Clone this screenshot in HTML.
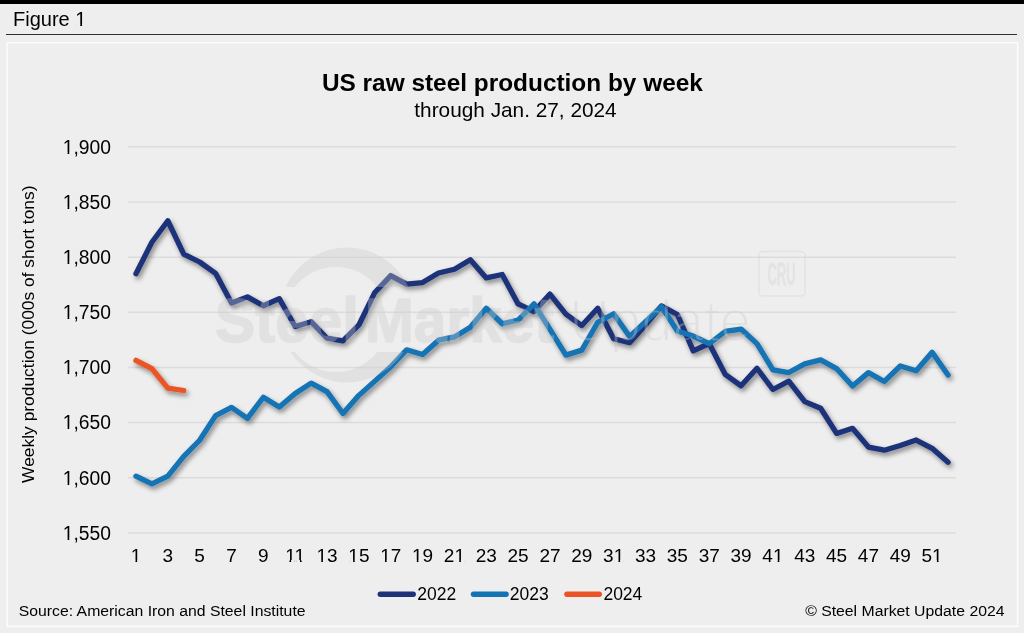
<!DOCTYPE html>
<html><head><meta charset="utf-8"><style>
html,body{margin:0;padding:0;width:1024px;height:633px;overflow:hidden;background:#eeeeee;}
svg{display:block;font-family:"Liberation Sans",sans-serif;will-change:transform;}
</style></head><body>
<svg width="1024" height="633" viewBox="0 0 1024 633">
<defs>
<filter id="sh" x="-10%" y="-10%" width="120%" height="130%">
<feGaussianBlur in="SourceAlpha" stdDeviation="2.6"/>
<feOffset dx="2" dy="3" result="b"/>
<feFlood flood-color="#000" flood-opacity="0.45"/>
<feComposite in2="b" operator="in"/>
<feMerge><feMergeNode/><feMergeNode in="SourceGraphic"/></feMerge>
</filter>
<mask id="upd" maskUnits="userSpaceOnUse" x="0" y="0" width="1024" height="633">
<rect x="0" y="0" width="1024" height="633" fill="#000"/>
<text x="569" y="341" font-size="60" textLength="182" lengthAdjust="spacingAndGlyphs" fill="#fff" stroke="#000" stroke-width="2.2">Update</text>
</mask>
<mask id="ring" maskUnits="userSpaceOnUse" x="0" y="0" width="1024" height="633">
<rect x="0" y="0" width="1024" height="633" fill="#000"/>
<circle cx="347" cy="315" r="67.5" fill="#fff"/>
<circle cx="336" cy="319.5" r="52.5" fill="#000"/>
<rect x="250" y="287" width="200" height="65" fill="#000"/>
</mask>
</defs>
<rect x="0" y="0" width="1024" height="633" fill="#eeeeee"/>
<rect x="0" y="0" width="1024" height="4" fill="#000"/>
<g fill="#000">
<text transform="translate(13.00 26.00) scale(1 1.000)" font-size="20.00">Figure 1</text>
<text transform="translate(512.40 91.20) scale(1 1.000)" font-size="24.40" font-weight="bold" text-anchor="middle">US raw steel production by week</text>
<text transform="translate(515.50 116.60) scale(1 1.000)" font-size="20.80" text-anchor="middle">through Jan. 27, 2024</text>
</g>
<line x1="6" y1="34.5" x2="1017" y2="34.5" stroke="#303030" stroke-width="1.15"/>
<rect x="7.1" y="42.6" width="1010.5" height="583.8" fill="none" stroke="#fcfcfc" stroke-width="1.5"/>
<g stroke="#dcdcdc" stroke-width="1.5"><line x1="128.0" y1="146.85" x2="956.0" y2="146.85"/><line x1="128.0" y1="202.00" x2="956.0" y2="202.00"/><line x1="128.0" y1="257.15" x2="956.0" y2="257.15"/><line x1="128.0" y1="312.30" x2="956.0" y2="312.30"/><line x1="128.0" y1="367.45" x2="956.0" y2="367.45"/><line x1="128.0" y1="422.60" x2="956.0" y2="422.60"/><line x1="128.0" y1="477.75" x2="956.0" y2="477.75"/><line x1="128.0" y1="532.90" x2="956.0" y2="532.90"/></g>
<g fill="#000"><text transform="translate(111.00 153.65) scale(1 1.000)" font-size="19.30" text-anchor="end">1,900</text><text transform="translate(111.00 208.80) scale(1 1.000)" font-size="19.30" text-anchor="end">1,850</text><text transform="translate(111.00 263.95) scale(1 1.000)" font-size="19.30" text-anchor="end">1,800</text><text transform="translate(111.00 319.10) scale(1 1.000)" font-size="19.30" text-anchor="end">1,750</text><text transform="translate(111.00 374.25) scale(1 1.000)" font-size="19.30" text-anchor="end">1,700</text><text transform="translate(111.00 429.40) scale(1 1.000)" font-size="19.30" text-anchor="end">1,650</text><text transform="translate(111.00 484.55) scale(1 1.000)" font-size="19.30" text-anchor="end">1,600</text><text transform="translate(111.00 539.70) scale(1 1.000)" font-size="19.30" text-anchor="end">1,550</text></g>
<g fill="#000"><text transform="translate(135.96 562.00) scale(1 1.000)" font-size="19.00" text-anchor="middle">1</text><text transform="translate(167.81 562.00) scale(1 1.000)" font-size="19.00" text-anchor="middle">3</text><text transform="translate(199.65 562.00) scale(1 1.000)" font-size="19.00" text-anchor="middle">5</text><text transform="translate(231.50 562.00) scale(1 1.000)" font-size="19.00" text-anchor="middle">7</text><text transform="translate(263.35 562.00) scale(1 1.000)" font-size="19.00" text-anchor="middle">9</text><text transform="translate(295.19 562.00) scale(1 1.000)" font-size="19.00" text-anchor="middle">11</text><text transform="translate(327.04 562.00) scale(1 1.000)" font-size="19.00" text-anchor="middle">13</text><text transform="translate(358.88 562.00) scale(1 1.000)" font-size="19.00" text-anchor="middle">15</text><text transform="translate(390.73 562.00) scale(1 1.000)" font-size="19.00" text-anchor="middle">17</text><text transform="translate(422.58 562.00) scale(1 1.000)" font-size="19.00" text-anchor="middle">19</text><text transform="translate(454.42 562.00) scale(1 1.000)" font-size="19.00" text-anchor="middle">21</text><text transform="translate(486.27 562.00) scale(1 1.000)" font-size="19.00" text-anchor="middle">23</text><text transform="translate(518.12 562.00) scale(1 1.000)" font-size="19.00" text-anchor="middle">25</text><text transform="translate(549.96 562.00) scale(1 1.000)" font-size="19.00" text-anchor="middle">27</text><text transform="translate(581.81 562.00) scale(1 1.000)" font-size="19.00" text-anchor="middle">29</text><text transform="translate(613.65 562.00) scale(1 1.000)" font-size="19.00" text-anchor="middle">31</text><text transform="translate(645.50 562.00) scale(1 1.000)" font-size="19.00" text-anchor="middle">33</text><text transform="translate(677.35 562.00) scale(1 1.000)" font-size="19.00" text-anchor="middle">35</text><text transform="translate(709.19 562.00) scale(1 1.000)" font-size="19.00" text-anchor="middle">37</text><text transform="translate(741.04 562.00) scale(1 1.000)" font-size="19.00" text-anchor="middle">39</text><text transform="translate(772.88 562.00) scale(1 1.000)" font-size="19.00" text-anchor="middle">41</text><text transform="translate(804.73 562.00) scale(1 1.000)" font-size="19.00" text-anchor="middle">43</text><text transform="translate(836.58 562.00) scale(1 1.000)" font-size="19.00" text-anchor="middle">45</text><text transform="translate(868.42 562.00) scale(1 1.000)" font-size="19.00" text-anchor="middle">47</text><text transform="translate(900.27 562.00) scale(1 1.000)" font-size="19.00" text-anchor="middle">49</text><text transform="translate(932.12 562.00) scale(1 1.000)" font-size="19.00" text-anchor="middle">51</text></g>
<g fill="#eeeeee"><rect x="63.65" y="152" width="3.91" height="2"/><rect x="69.27" y="152" width="3.81" height="2"/><rect x="63.65" y="207" width="3.91" height="2"/><rect x="69.27" y="207" width="3.81" height="2"/><rect x="63.65" y="262" width="3.91" height="2"/><rect x="69.27" y="262" width="3.81" height="2"/><rect x="63.65" y="317" width="3.91" height="2"/><rect x="69.27" y="317" width="3.81" height="2"/><rect x="63.65" y="372" width="3.91" height="2"/><rect x="69.27" y="372" width="3.81" height="2"/><rect x="63.65" y="427" width="3.91" height="2"/><rect x="69.27" y="427" width="3.81" height="2"/><rect x="63.65" y="483" width="3.91" height="2"/><rect x="69.27" y="483" width="3.81" height="2"/><rect x="63.65" y="538" width="3.91" height="2"/><rect x="69.27" y="538" width="3.81" height="2"/><rect x="131.61" y="560" width="3.85" height="2"/><rect x="137.14" y="560" width="3.75" height="2"/><rect x="285.56" y="560" width="3.85" height="2"/><rect x="291.09" y="560" width="3.75" height="2"/><rect x="296.12" y="560" width="3.85" height="2"/><rect x="301.65" y="560" width="3.75" height="2"/><rect x="317.40" y="560" width="3.85" height="2"/><rect x="322.93" y="560" width="3.75" height="2"/><rect x="349.25" y="560" width="3.85" height="2"/><rect x="354.78" y="560" width="3.75" height="2"/><rect x="381.09" y="560" width="3.85" height="2"/><rect x="386.62" y="560" width="3.75" height="2"/><rect x="412.94" y="560" width="3.85" height="2"/><rect x="418.47" y="560" width="3.75" height="2"/><rect x="455.35" y="560" width="3.85" height="2"/><rect x="460.88" y="560" width="3.75" height="2"/><rect x="614.58" y="560" width="3.85" height="2"/><rect x="620.11" y="560" width="3.75" height="2"/><rect x="773.81" y="560" width="3.85" height="2"/><rect x="779.34" y="560" width="3.75" height="2"/><rect x="933.04" y="560" width="3.85" height="2"/><rect x="938.57" y="560" width="3.75" height="2"/><rect x="76.22" y="24" width="4.05" height="2"/><rect x="82.04" y="24" width="3.95" height="2"/></g>
<text transform="translate(34.3 334.2) rotate(-90) scale(1 1.0)" font-size="17.4" text-anchor="middle" fill="#000">Weekly production (000s of short tons)</text>
<g fill="none" stroke-width="5.3" stroke-linejoin="round" stroke-linecap="round" filter="url(#sh)">
<path d="M135.96 273.69 L151.88 242.26 L167.81 220.75 L183.73 254.06 L199.65 262.00 L215.58 273.36 L231.50 303.03 L247.42 296.86 L263.35 305.79 L279.27 298.62 L295.19 326.53 L311.12 321.68 L327.04 338.22 L342.96 340.98 L358.88 324.98 L374.81 292.45 L390.73 275.57 L406.65 284.06 L422.58 282.52 L438.50 273.03 L454.42 269.28 L470.35 259.80 L486.27 277.89 L502.19 274.47 L518.12 303.92 L534.04 311.53 L549.96 294.10 L565.88 314.06 L581.81 325.54 L597.73 308.22 L613.65 338.77 L629.58 342.63 L645.50 324.98 L661.42 305.90 L677.35 314.51 L693.27 350.90 L709.19 343.51 L725.12 374.29 L741.04 385.76 L756.96 368.22 L772.88 389.51 L788.81 381.13 L804.73 401.64 L820.65 408.26 L836.58 433.41 L852.50 428.34 L868.42 447.09 L884.35 450.17 L900.27 445.54 L916.19 440.03 L932.12 448.30 L948.04 462.31" stroke="#1f3179"/>
<path d="M135.96 476.21 L151.88 483.93 L167.81 476.21 L183.73 456.35 L199.65 440.25 L215.58 415.65 L231.50 407.38 L247.42 418.41 L263.35 397.23 L279.27 406.94 L295.19 393.48 L311.12 383.11 L327.04 391.61 L342.96 413.45 L358.88 395.36 L374.81 381.13 L390.73 366.79 L406.65 349.80 L422.58 354.54 L438.50 340.21 L454.42 336.90 L470.35 327.19 L486.27 308.22 L502.19 323.77 L518.12 320.02 L534.04 303.92 L549.96 329.40 L565.88 355.10 L581.81 350.13 L597.73 322.23 L613.65 313.73 L629.58 336.57 L645.50 321.68 L661.42 306.56 L677.35 331.05 L693.27 336.01 L709.19 343.74 L725.12 331.49 L741.04 329.07 L756.96 343.63 L772.88 369.77 L788.81 372.52 L804.73 363.81 L820.65 359.95 L836.58 368.55 L852.50 386.09 L868.42 372.63 L884.35 381.46 L900.27 366.02 L916.19 370.76 L932.12 352.23 L948.04 375.06" stroke="#1473b4"/>
<path d="M135.96 360.39 L151.88 368.66 L167.81 388.08 L183.73 390.50" stroke="#ea5426"/>
</g>
<g opacity="0.34" fill="#cbcbcb">
<rect x="270" y="240" width="160" height="150" mask="url(#ring)"/>
<g stroke="#cbcbcb" stroke-width="1.6" stroke-linejoin="round">
<text x="215" y="342" font-size="63" font-weight="bold" textLength="144" lengthAdjust="spacingAndGlyphs">Steel</text>
<text x="365" y="342" font-size="63" font-weight="bold" textLength="189" lengthAdjust="spacingAndGlyphs">Market</text>
</g>
<rect x="560" y="280" width="200" height="80" mask="url(#upd)"/>
</g>
<g opacity="0.3">
<rect x="758.8" y="251.5" width="46.2" height="44.5" rx="4" fill="none" stroke="#cbcbcb" stroke-width="1.5"/>
<text x="781.5" y="284.8" font-size="32" font-weight="bold" text-anchor="middle" fill="#cbcbcb" stroke="#cbcbcb" stroke-width="0.8" textLength="28" lengthAdjust="spacingAndGlyphs">CRU</text>
</g>
<g fill="none" stroke-width="5.4" stroke-linecap="round">
<line x1="380.3" y1="594.2" x2="413.2" y2="594.2" stroke="#1f3179"/>
<line x1="473.5" y1="594.2" x2="506.1" y2="594.2" stroke="#1473b4"/>
<line x1="566.9" y1="594.2" x2="599.3" y2="594.2" stroke="#ea5426"/>
</g>
<g fill="#000">
<text transform="translate(417.20 600.00) scale(1 1.000)" font-size="17.50">2022</text>
<text transform="translate(509.80 600.00) scale(1 1.000)" font-size="17.50">2023</text>
<text transform="translate(603.40 600.00) scale(1 1.000)" font-size="17.50">2024</text>
<text transform="translate(18.70 616.10) scale(1 0.960)" font-size="15.80">Source: American Iron and Steel Institute</text>
<text transform="translate(1004.50 616.10) scale(1 0.960)" font-size="15.80" text-anchor="end">© Steel Market Update 2024</text>
</g>
</svg>
</body></html>
